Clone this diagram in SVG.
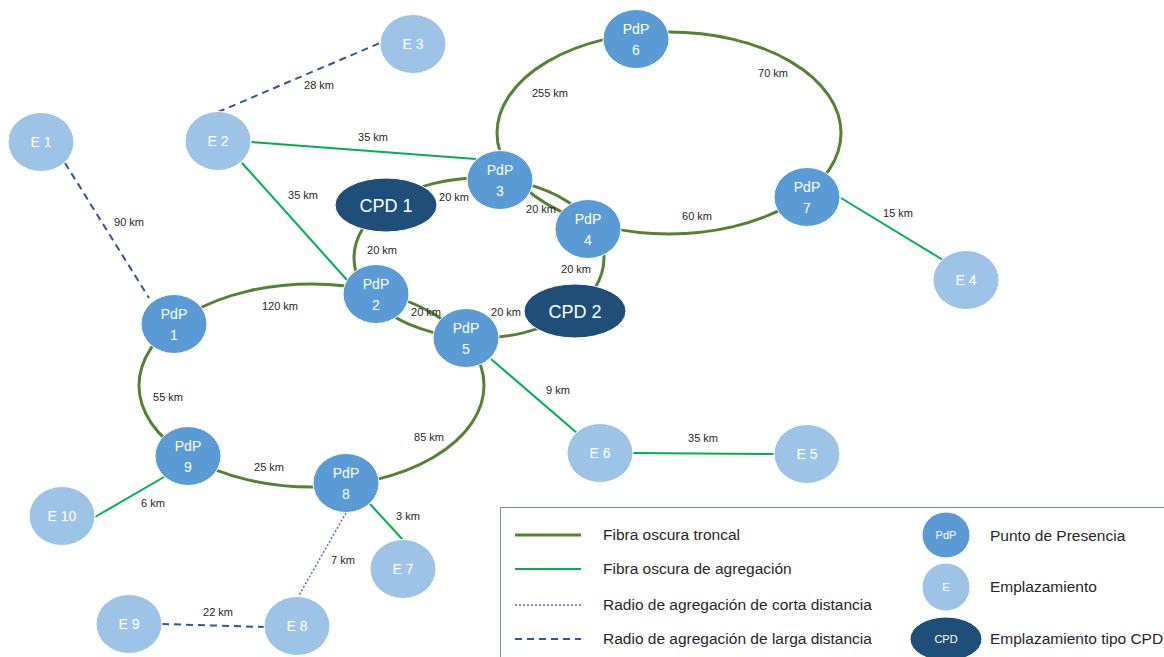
<svg xmlns="http://www.w3.org/2000/svg" width="1164" height="657" viewBox="0 0 1164 657">
<style>
.trunk{fill:none;stroke:#548235;stroke-width:3}
.agg{fill:none;stroke:#00B050;stroke-width:2}
.short{fill:none;stroke:#4472C4;stroke-width:1.5;stroke-dasharray:2 2}
.long{fill:none;stroke:#2F5597;stroke-width:2;stroke-dasharray:7 5}
.pdp{fill:#5B9BD5;stroke:#fff;stroke-width:1}
.e{fill:#9DC3E6;stroke:#fff;stroke-width:1}
.cpd{fill:#1F4E79;stroke:#fff;stroke-width:1}
.nt{font-family:"Liberation Sans",Arial,sans-serif;font-size:14px;fill:#fff;text-anchor:middle}
.ct{font-size:18px}
.st{font-size:11px}
.lbl{font-family:"Liberation Sans",Arial,sans-serif;font-size:11px;fill:#262626;text-anchor:middle}
.leg{font-family:"Liberation Sans",Arial,sans-serif;font-size:15.5px;fill:#262626}
</style>
<rect width="1164" height="657" fill="#fff"/>
<g id="connectors">
  <ellipse class="trunk" cx="669" cy="133" rx="172" ry="101"/>
  <ellipse class="trunk" cx="479" cy="258" rx="125" ry="80"/>
  <ellipse class="trunk" cx="311.5" cy="385.5" rx="172.5" ry="101.5"/>
  <line class="agg" x1="251" y1="142" x2="476" y2="159"/>
  <line class="agg" x1="242" y1="163" x2="347" y2="280"/>
  <line class="agg" x1="841" y1="198" x2="943" y2="260"/>
  <line class="agg" x1="491" y1="359" x2="577" y2="433"/>
  <line class="agg" x1="633" y1="453" x2="774" y2="454"/>
  <line class="agg" x1="164" y1="477" x2="95" y2="517"/>
  <line class="agg" x1="370" y1="504" x2="403" y2="540"/>
  <line class="long" x1="218" y1="112" x2="380" y2="43"/>
  <line class="long" x1="65" y1="163" x2="149" y2="298"/>
  <line class="long" x1="162" y1="624" x2="264" y2="627"/>
  <line class="short" x1="346" y1="513" x2="298" y2="597"/>
  <text class="lbl" x="373" y="141">35 km</text>
  <text class="lbl" x="303" y="199">35 km</text>
  <text class="lbl" x="898" y="217">15 km</text>
  <text class="lbl" x="558" y="394">9 km</text>
  <text class="lbl" x="703" y="442">35 km</text>
  <text class="lbl" x="153" y="507">6 km</text>
  <text class="lbl" x="408" y="520">3 km</text>
  <text class="lbl" x="319" y="89">28 km</text>
  <text class="lbl" x="129" y="226">90 km</text>
  <text class="lbl" x="218" y="616">22 km</text>
  <text class="lbl" x="343" y="564">7 km</text>
  <text class="lbl" x="550" y="97">255 km</text>
  <text class="lbl" x="773" y="77">70 km</text>
  <text class="lbl" x="697" y="220">60 km</text>
  <text class="lbl" x="454" y="201">20 km</text>
  <text class="lbl" x="541" y="213">20 km</text>
  <text class="lbl" x="382" y="254">20 km</text>
  <text class="lbl" x="576" y="273">20 km</text>
  <text class="lbl" x="426" y="316">20 km</text>
  <text class="lbl" x="506" y="316">20 km</text>
  <text class="lbl" x="280" y="310">120 km</text>
  <text class="lbl" x="168" y="401">55 km</text>
  <text class="lbl" x="429" y="441">85 km</text>
  <text class="lbl" x="269" y="471">25 km</text>
</g>
<g id="E1"><ellipse class="e" cx="41" cy="142" rx="33" ry="29.5"/><text class="nt" x="41" y="147">E 1</text></g>
<g id="E2"><ellipse class="e" cx="218" cy="141" rx="33" ry="29.5"/><text class="nt" x="218" y="146">E 2</text></g>
<g id="E3"><ellipse class="e" cx="413" cy="44" rx="33" ry="29.5"/><text class="nt" x="413" y="49">E 3</text></g>
<g id="E4"><ellipse class="e" cx="966" cy="280" rx="33" ry="29.5"/><text class="nt" x="966" y="285">E 4</text></g>
<g id="E5"><ellipse class="e" cx="807" cy="454" rx="33" ry="29.5"/><text class="nt" x="807" y="459">E 5</text></g>
<g id="E6"><ellipse class="e" cx="600" cy="453" rx="33" ry="29.5"/><text class="nt" x="600" y="458">E 6</text></g>
<g id="E7"><ellipse class="e" cx="403" cy="569" rx="33" ry="29.5"/><text class="nt" x="403" y="574">E 7</text></g>
<g id="E8"><ellipse class="e" cx="297" cy="626" rx="33" ry="29.5"/><text class="nt" x="297" y="631">E 8</text></g>
<g id="E9"><ellipse class="e" cx="129" cy="624" rx="33" ry="29.5"/><text class="nt" x="129" y="629">E 9</text></g>
<g id="E10"><ellipse class="e" cx="62" cy="516" rx="33" ry="29.5"/><text class="nt" x="62" y="521">E 10</text></g>
<g id="PdP1"><ellipse class="pdp" cx="174" cy="324" rx="33" ry="29.5"/><text class="nt" x="174" y="319">PdP</text><text class="nt" x="174" y="340">1</text></g>
<g id="PdP2"><ellipse class="pdp" cx="376" cy="294" rx="33" ry="29.5"/><text class="nt" x="376" y="289">PdP</text><text class="nt" x="376" y="310">2</text></g>
<g id="PdP3"><ellipse class="pdp" cx="500" cy="180" rx="33" ry="29.5"/><text class="nt" x="500" y="175">PdP</text><text class="nt" x="500" y="196">3</text></g>
<g id="PdP4"><ellipse class="pdp" cx="588" cy="229" rx="33" ry="29.5"/><text class="nt" x="588" y="224">PdP</text><text class="nt" x="588" y="245">4</text></g>
<g id="PdP5"><ellipse class="pdp" cx="466" cy="338" rx="33" ry="29.5"/><text class="nt" x="466" y="333">PdP</text><text class="nt" x="466" y="354">5</text></g>
<g id="PdP6"><ellipse class="pdp" cx="636" cy="39" rx="33" ry="29.5"/><text class="nt" x="636" y="34">PdP</text><text class="nt" x="636" y="55">6</text></g>
<g id="PdP7"><ellipse class="pdp" cx="807" cy="197" rx="33" ry="29.5"/><text class="nt" x="807" y="192">PdP</text><text class="nt" x="807" y="213">7</text></g>
<g id="PdP8"><ellipse class="pdp" cx="346" cy="483" rx="33" ry="29.5"/><text class="nt" x="346" y="478">PdP</text><text class="nt" x="346" y="499">8</text></g>
<g id="PdP9"><ellipse class="pdp" cx="188" cy="456" rx="33" ry="29.5"/><text class="nt" x="188" y="451">PdP</text><text class="nt" x="188" y="472">9</text></g>
<g id="CPD1"><ellipse class="cpd" cx="386" cy="205" rx="51" ry="27"/><text class="nt ct" x="386" y="211.5">CPD 1</text></g>
<g id="CPD2"><ellipse class="cpd" cx="575" cy="311" rx="51" ry="27"/><text class="nt ct" x="575" y="317.5">CPD 2</text></g>
<g id="legend">
  <rect x="500.5" y="507.5" width="680" height="160" fill="#fff" stroke="#6F8FBF" stroke-width="1"/>
  <line class="trunk" x1="515" y1="535" x2="581" y2="535"/>
  <line class="agg" x1="515" y1="569" x2="581" y2="569"/>
  <line class="short" x1="515" y1="605" x2="581" y2="605"/>
  <line class="long" x1="515" y1="639" x2="581" y2="639"/>
  <text class="leg" x="603" y="540">Fibra oscura troncal</text>
  <text class="leg" x="603" y="574">Fibra oscura de agregación</text>
  <text class="leg" x="603" y="610">Radio de agregación de corta distancia</text>
  <text class="leg" x="603" y="644">Radio de agregación de larga distancia</text>
  <ellipse class="pdp" cx="946" cy="535" rx="24" ry="23"/><text class="nt st" x="946" y="539">PdP</text>
  <ellipse class="e" cx="946" cy="587" rx="24" ry="24"/><text class="nt st" x="946" y="591">E</text>
  <ellipse class="cpd" cx="946" cy="639" rx="36" ry="22"/><text class="nt st" x="946" y="643">CPD</text>
  <text class="leg" x="990" y="541">Punto de Presencia</text>
  <text class="leg" x="990" y="592">Emplazamiento</text>
  <text class="leg" x="990" y="644">Emplazamiento tipo CPD</text>
</g>
</svg>
